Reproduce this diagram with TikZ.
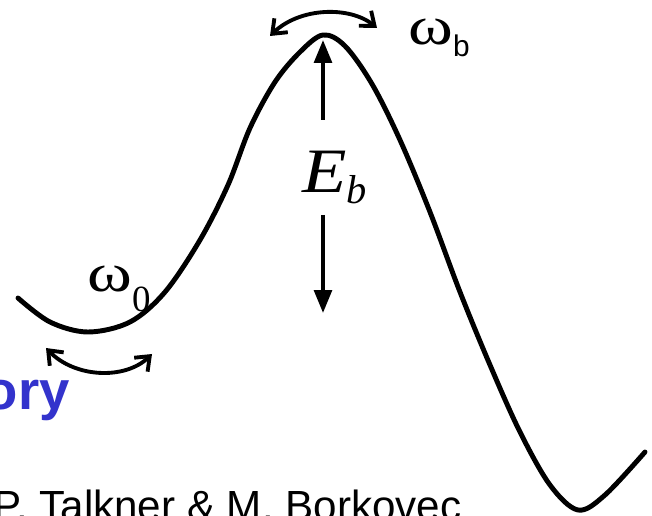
\documentclass[tikz,border=0pt]{standalone}
\usepackage{fontspec}
\usepackage{graphicx}
\setmainfont{Liberation Serif}
\setsansfont{Liberation Sans}
\usetikzlibrary{arrows.meta}
\definecolor{titleblue}{RGB}{51,51,204}
\newcommand{\wide}[1]{\scalebox{1.25}[1]{#1}}

\begin{document}
\begin{tikzpicture}[
  x=0.02cm, y=-0.02cm,
  pot/.style={line width=2.8pt, line join=round, line cap=round},
  osc/.style={line width=2.2pt, {Straight Barb[length=7pt,width=11pt]}-{Straight Barb[length=7pt,width=11pt]}},
  barr/.style={line width=2.2pt, -{Triangle[length=13pt,width=10pt]}},
  lbl/.style={inner sep=0pt}
]
\useasboundingbox (0,0) rectangle (652,516);
\begin{scope}
\clip (0,0) rectangle (652,516);
% potential
\draw[pot] plot[smooth, tension=0.55] coordinates {(18,298) (50,322) (88,332) (130,322) (165,292) (200,240) (228,185) (250,128) (275,82) (300,52) (323,35) (345,46) (372,84) (400,140) (430,212) (460,292) (490,365) (520,432) (550,485) (578,510) (605,495) (645,452)};

% barrier height
\node[lbl, anchor=base west] (Eb) at (302,193) {\fontsize{36}{36}\selectfont\itshape\scalebox{1.15}[1]{E}\raisebox{-6pt}{\fontsize{23}{23}\selectfont b}};
\coordinate (top) at (323,40);
\coordinate (well) at (323,313);
\draw[barr] (323,120) -- (top);
\draw[barr] (323,215) -- (well);

% frequencies
\coordinate (bl) at (270,36);
\coordinate (br) at (377,28);
\draw[osc] (bl) .. controls (300,7) and (350,6) .. (br);
\coordinate (wl) at (46,348);
\coordinate (wr) at (152,354);
\draw[osc] (wl) .. controls (75,378) and (125,380) .. (wr);
\node[lbl, anchor=base west] (wb) at (408,45) {\fontsize{31}{31}\selectfont\wide{ω}\raisebox{-6.8pt}{\sffamily\fontsize{17}{17}\selectfont b}};
\node[lbl, anchor=base west] (w0) at (87,292) {\fontsize{31}{31}\selectfont\wide{ω}\raisebox{-11pt}{\fontsize{21}{21}\selectfont 0}};

% cut-off slide text
\node[lbl, anchor=base east, text=titleblue] (title) at (70,410) {\sffamily\bfseries\fontsize{31}{31}\selectfont Theory};
\node[lbl, anchor=base west] (auth) at (-7,520) {\sffamily\fontsize{24}{28}\selectfont P. Talkner \& M. Borkovec};
\end{scope}
\end{tikzpicture}
\end{document}
